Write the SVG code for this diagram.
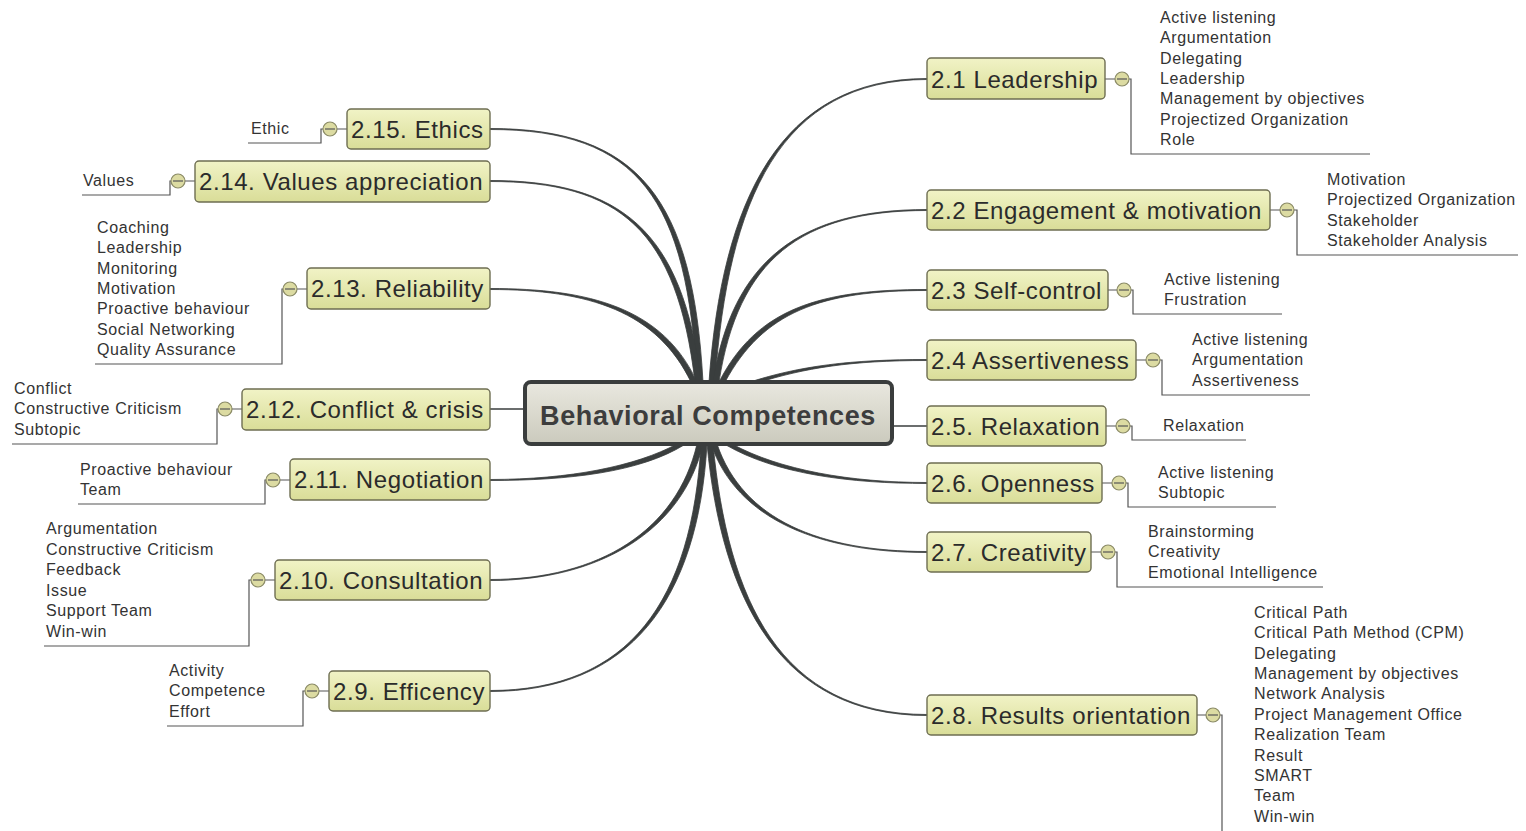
<svg xmlns="http://www.w3.org/2000/svg" width="1526" height="831" viewBox="0 0 1526 831">
<defs>
<linearGradient id="gn" x1="0" y1="0" x2="0" y2="1"><stop offset="0" stop-color="#f1f3c6"/><stop offset="1" stop-color="#d9dd98"/></linearGradient>
<linearGradient id="gc" x1="0" y1="0" x2="0" y2="1"><stop offset="0" stop-color="#e9e8df"/><stop offset="1" stop-color="#cbcabd"/></linearGradient>
<style>
.n rect{fill:url(#gn);stroke:#6e6e52;stroke-width:1.4}
.n text{font-family:"Liberation Sans",Arial,sans-serif;font-size:24px;letter-spacing:0.6px;fill:#2b2b2b}
.c{font-family:"Liberation Sans",Arial,sans-serif;font-size:16px;letter-spacing:0.6px;fill:#333}
.br{fill:#3a3e3e;stroke:#3a3e3e;stroke-width:0.8}
.ln{fill:none;stroke:#555;stroke-width:1.2}
.st{fill:none;stroke:#3a3e3e;stroke-width:1.4}
.k circle{fill:#dcdba2;stroke:#8a8a66;stroke-width:1.2}
.k line{stroke:#555;stroke-width:1.2}
</style>
</defs>
<rect width="1526" height="831" fill="#fff"/>
<g id="connectors">
<path class="br" d="M709,382 C722,200 780,78.5 927,78.5 L927,79.5 C780,79.5 728,200 715,382 Z"/>
<path class="br" d="M713,382 C732,260 800,209.5 927,209.5 L927,210.5 C800,210.5 738,260 719,382 Z"/>
<path class="br" d="M719,382 C757,308 820,289.5 927,289.5 L927,290.5 C820,290.5 763,312 725,382 Z"/>
<path class="br" d="M750,382 C800,366 850,359.5 927,359.5 L927,360.5 C850,360.5 805,368 757,383 Z"/>
<path class="st" d="M892,426 L927,426"/>
<path class="br" d="M732,444 C780,470 850,482.5 927,482.5 L927,483.5 C850,483.5 776,474 726,445 Z"/>
<path class="br" d="M717,444 C743,520 820,551.5 927,551.5 L927,552.5 C820,552.5 737,520 711,444 Z"/>
<path class="br" d="M713,444 C728,600 780,714.5 927,714.5 L927,715.5 C780,715.5 722,600 707,444 Z"/>
<path class="br" d="M703,382 C693,200 640,128.5 490,128.5 L490,129.5 C640,129.5 687,200 697,382 Z"/>
<path class="br" d="M701,382 C683,230 620,180.5 490,180.5 L490,181.5 C620,181.5 677,230 695,382 Z"/>
<path class="br" d="M697,382 C663,308 590,288.5 490,288.5 L490,289.5 C590,289.5 657,312 691,382 Z"/>
<path class="st" d="M525,409 L490,409"/>
<path class="br" d="M684,445 C640,472 570,480.5 490,480.5 L490,479.5 C570,479.5 636,466 677,444 Z"/>
<path class="br" d="M703,444 C683,530 600,580.5 490,580.5 L490,579.5 C600,579.5 677,530 697,444 Z"/>
<path class="br" d="M707,444 C698,600 630,691.5 490,691.5 L490,690.5 C630,690.5 692,600 701,444 Z"/>
<path class="ln" d="M1105,79 H1115 M1129,79 H1131 V154 H1370"/>
<path class="ln" d="M1270,210 H1280 M1294,210 H1297 V255 H1518"/>
<path class="ln" d="M1108,290 H1117 M1131,290 H1133 V314 H1282"/>
<path class="ln" d="M1136,360 H1146 M1160,360 H1162 V395 H1310"/>
<path class="ln" d="M1106,426 H1116 M1130,426 H1132 V440 H1246"/>
<path class="ln" d="M1102,483 H1112 M1126,483 H1128 V507 H1276"/>
<path class="ln" d="M1091,552 H1101 M1115,552 H1117 V587 H1323"/>
<path class="ln" d="M1197,715 H1206 M1220,715 H1222 V831"/>
<path class="ln" d="M347,129 H337 M323,129 H321 V143 H248"/>
<path class="ln" d="M195,181 H185 M171,181 H170 V195 H82"/>
<path class="ln" d="M307,289 H297 M283,289 H282 V364 H95"/>
<path class="ln" d="M242,409 H232 M218,409 H217 V444 H12"/>
<path class="ln" d="M290,480 H280 M266,480 H265 V504 H78"/>
<path class="ln" d="M275,580 H265 M251,580 H249 V646 H44"/>
<path class="ln" d="M329,691 H319 M305,691 H303 V726 H167"/>
</g>
<g id="center">
<rect x="525" y="382" width="367" height="62" rx="6" fill="url(#gc)" stroke="#3a3d3d" stroke-width="4"/>
<text x="708" y="425" text-anchor="middle" font-family="Liberation Sans,Arial,sans-serif" font-size="27" font-weight="bold" letter-spacing="0.6" fill="#3d3d3d">Behavioral Competences</text>
</g>
<g id="n2-1" class="n"><rect x="927" y="58" width="178" height="41" rx="4"/><text x="931" y="87.5">2.1 Leadership</text></g>
<g id="n2-2" class="n"><rect x="927" y="190" width="343" height="40" rx="4"/><text x="931" y="218.5">2.2 Engagement &amp; motivation</text></g>
<g id="n2-3" class="n"><rect x="927" y="270" width="181" height="40" rx="4"/><text x="931" y="298.5">2.3 Self-control</text></g>
<g id="n2-4" class="n"><rect x="927" y="340" width="209" height="40" rx="4"/><text x="931" y="368.5">2.4 Assertiveness</text></g>
<g id="n2-5" class="n"><rect x="927" y="406" width="179" height="40" rx="4"/><text x="931" y="434.5">2.5. Relaxation</text></g>
<g id="n2-6" class="n"><rect x="927" y="463" width="175" height="40" rx="4"/><text x="931" y="491.5">2.6. Openness</text></g>
<g id="n2-7" class="n"><rect x="927" y="532" width="164" height="40" rx="4"/><text x="931" y="560.5">2.7. Creativity</text></g>
<g id="n2-8" class="n"><rect x="927" y="695" width="270" height="40" rx="4"/><text x="931" y="723.5">2.8. Results orientation</text></g>
<g id="n2-15" class="n"><rect x="347" y="109" width="143" height="40" rx="4"/><text x="351" y="137.5">2.15. Ethics</text></g>
<g id="n2-14" class="n"><rect x="195" y="161" width="295" height="41" rx="4"/><text x="199" y="190">2.14. Values appreciation</text></g>
<g id="n2-13" class="n"><rect x="307" y="268" width="183" height="41" rx="4"/><text x="311" y="297">2.13. Reliability</text></g>
<g id="n2-12" class="n"><rect x="242" y="389" width="248" height="41" rx="4"/><text x="246" y="418">2.12. Conflict &amp; crisis</text></g>
<g id="n2-11" class="n"><rect x="290" y="459" width="200" height="41" rx="4"/><text x="294" y="488">2.11. Negotiation</text></g>
<g id="n2-10" class="n"><rect x="275" y="560" width="215" height="40" rx="4"/><text x="279" y="588.5">2.10. Consultation</text></g>
<g id="n2-9" class="n"><rect x="329" y="671" width="161" height="40" rx="4"/><text x="333" y="699.5">2.9. Efficency</text></g>
<g id="toggles" class="k">
<circle cx="1122" cy="79" r="7"/><line x1="1117" y1="79" x2="1127" y2="79"/>
<circle cx="1287" cy="210" r="7"/><line x1="1282" y1="210" x2="1292" y2="210"/>
<circle cx="1124" cy="290" r="7"/><line x1="1119" y1="290" x2="1129" y2="290"/>
<circle cx="1153" cy="360" r="7"/><line x1="1148" y1="360" x2="1158" y2="360"/>
<circle cx="1123" cy="426" r="7"/><line x1="1118" y1="426" x2="1128" y2="426"/>
<circle cx="1119" cy="483" r="7"/><line x1="1114" y1="483" x2="1124" y2="483"/>
<circle cx="1108" cy="552" r="7"/><line x1="1103" y1="552" x2="1113" y2="552"/>
<circle cx="1213" cy="715" r="7"/><line x1="1208" y1="715" x2="1218" y2="715"/>
<circle cx="330" cy="129" r="7"/><line x1="325" y1="129" x2="335" y2="129"/>
<circle cx="178" cy="181" r="7"/><line x1="173" y1="181" x2="183" y2="181"/>
<circle cx="290" cy="289" r="7"/><line x1="285" y1="289" x2="295" y2="289"/>
<circle cx="225" cy="409" r="7"/><line x1="220" y1="409" x2="230" y2="409"/>
<circle cx="273" cy="480" r="7"/><line x1="268" y1="480" x2="278" y2="480"/>
<circle cx="258" cy="580" r="7"/><line x1="253" y1="580" x2="263" y2="580"/>
<circle cx="312" cy="691" r="7"/><line x1="307" y1="691" x2="317" y2="691"/>
</g>
<g id="children" class="c">
<text x="1160" y="23">Active listening</text><text x="1160" y="43">Argumentation</text><text x="1160" y="64">Delegating</text><text x="1160" y="84">Leadership</text><text x="1160" y="104">Management by objectives</text><text x="1160" y="125">Projectized Organization</text><text x="1160" y="145">Role</text>
<text x="1327" y="185">Motivation</text><text x="1327" y="205">Projectized Organization</text><text x="1327" y="226">Stakeholder</text><text x="1327" y="246">Stakeholder Analysis</text>
<text x="1164" y="285">Active listening</text><text x="1164" y="305">Frustration</text>
<text x="1192" y="345">Active listening</text><text x="1192" y="365">Argumentation</text><text x="1192" y="386">Assertiveness</text>
<text x="1163" y="431">Relaxation</text>
<text x="1158" y="478">Active listening</text><text x="1158" y="498">Subtopic</text>
<text x="1148" y="537">Brainstorming</text><text x="1148" y="557">Creativity</text><text x="1148" y="578">Emotional Intelligence</text>
<text x="1254" y="618">Critical Path</text><text x="1254" y="638">Critical Path Method (CPM)</text><text x="1254" y="659">Delegating</text><text x="1254" y="679">Management by objectives</text><text x="1254" y="699">Network Analysis</text><text x="1254" y="720">Project Management Office</text><text x="1254" y="740">Realization Team</text><text x="1254" y="761">Result</text><text x="1254" y="781">SMART</text><text x="1254" y="801">Team</text><text x="1254" y="822">Win-win</text>
<text x="251" y="134">Ethic</text>
<text x="83" y="186">Values</text>
<text x="97" y="233">Coaching</text><text x="97" y="253">Leadership</text><text x="97" y="274">Monitoring</text><text x="97" y="294">Motivation</text><text x="97" y="314">Proactive behaviour</text><text x="97" y="335">Social Networking</text><text x="97" y="355">Quality Assurance</text>
<text x="14" y="394">Conflict</text><text x="14" y="414">Constructive Criticism</text><text x="14" y="435">Subtopic</text>
<text x="80" y="475">Proactive behaviour</text><text x="80" y="495">Team</text>
<text x="46" y="534">Argumentation</text><text x="46" y="555">Constructive Criticism</text><text x="46" y="575">Feedback</text><text x="46" y="596">Issue</text><text x="46" y="616">Support Team</text><text x="46" y="637">Win-win</text>
<text x="169" y="676">Activity</text><text x="169" y="696">Competence</text><text x="169" y="717">Effort</text>
</g>
</svg>
